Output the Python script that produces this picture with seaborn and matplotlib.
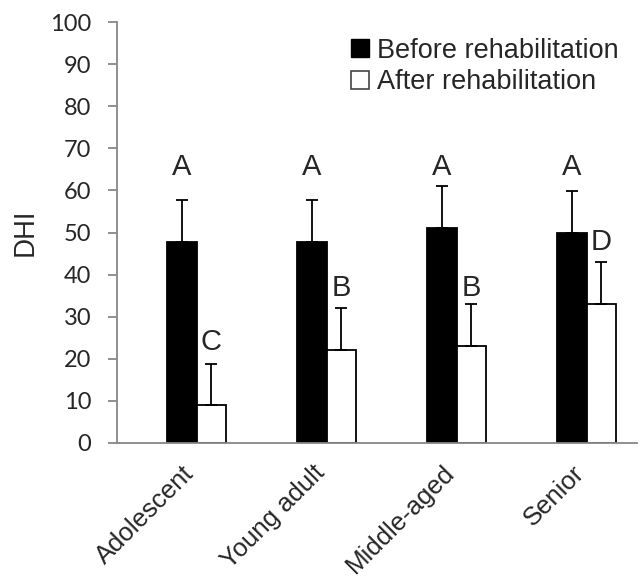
import numpy as np
import pandas as pd
import seaborn as sns
import matplotlib.pyplot as plt
from matplotlib.patches import Patch

# values
groups = ['Adolescent', 'Young adult', 'Middle-aged', 'Senior']
before_mean = [47.8, 47.7, 51.0, 49.9]
before_sd = [10.0, 10.1, 10.0, 10.0]
after_mean = [8.9, 22.1, 23.1, 33.0]
after_sd = [9.9, 9.9, 9.9, 10.0]
before_letters = ['A', 'A', 'A', 'A']
after_letters = ['C', 'B', 'B', 'D']
before_letter_y = [65.5, 65.5, 65.5, 65.5]
after_letter_y = [24.0, 36.8, 36.8, 47.7]

series = ['Before rehabilitation', 'After rehabilitation']

sns.set_style('white')
plt.rcParams['font.family'] = ['Liberation Sans', 'DejaVu Sans']

df = pd.DataFrame({
    'group': groups * 2,
    'series': [series[0]] * 4 + [series[1]] * 4,
    'DHI': before_mean + after_mean,
})

fig = plt.figure(figsize=(6.39, 5.82), dpi=100)
ax = fig.add_axes([0.183, 0.239, 0.814, 0.723])

# a blank first hue level pushes the pair to the right, like the original
order = ['_pad'] + series
pal = {'_pad': 'white', series[0]: 'black', series[1]: 'white'}
sns.barplot(data=df, x='group', y='DHI', hue='series', hue_order=order,
            order=groups, palette=pal, width=0.675, edgecolor='black',
            linewidth=1.3, errorbar=None, legend=False, ax=ax)

# error bars + letters placed on the drawn bars
bars = sorted([p for p in ax.patches if p.get_width() > 0], key=lambda p: p.get_x())
centers = [p.get_x() + p.get_width() / 2 for p in bars]
means, sds, letters, ly, xs = [], [], [], [], []
for i in range(4):
    means += [before_mean[i], after_mean[i]]
    sds += [before_sd[i], after_sd[i]]
    letters += [before_letters[i], after_letters[i]]
    ly += [before_letter_y[i], after_letter_y[i]]
    cat = [c for c in centers if i - 0.15 < c < i + 0.5]
    xs += cat[-2:]
ax.errorbar(xs, means, yerr=[np.zeros(8), sds], fmt='none', ecolor='black',
            elinewidth=1.3, capsize=4.5, capthick=1.3, zorder=5)
for x, y, t in zip(xs, ly, letters):
    ax.text(x, y, t, ha='center', va='center', fontsize=21)

ax.set_ylim(0, 100)
ax.set_xlim(-0.5, 3.5)
ax.set_yticks(np.arange(0, 101, 10))
ax.set_yticklabels([str(v) for v in range(0, 101, 10)], family='Lato', fontsize=17)
ax.set_xticks(range(4))
ax.set_xticklabels(groups, rotation=45, ha='right', rotation_mode='anchor', fontsize=18.5)
ax.set_xticks(np.arange(-0.5, 3.6, 1), minor=True)
ax.tick_params(axis='x', which='major', length=0, pad=13)
ax.tick_params(axis='x', which='minor', length=6.5, width=1.3, color='#878787')
ax.tick_params(axis='y', length=6.5, width=1.3, color='#878787', left=True, pad=12)
ax.set_xlabel('')
ax.set_ylabel('DHI', family='Lato', fontsize=19, labelpad=9)

sns.despine(ax=ax)
for s in ['left', 'bottom']:
    ax.spines[s].set_color('#878787')
    ax.spines[s].set_linewidth(1.3)

handles = [Patch(facecolor='black', edgecolor='black'),
           Patch(facecolor='white', edgecolor='#444444', linewidth=1.2)]
ax.legend(handles, series, loc='upper right', bbox_to_anchor=(0.99, 0.995),
          frameon=False, fontsize=19.5, handlelength=0.65, handleheight=0.65,
          handletextpad=0.3, labelspacing=0.2, borderpad=0)

fig.savefig('out.png', dpi=100)
